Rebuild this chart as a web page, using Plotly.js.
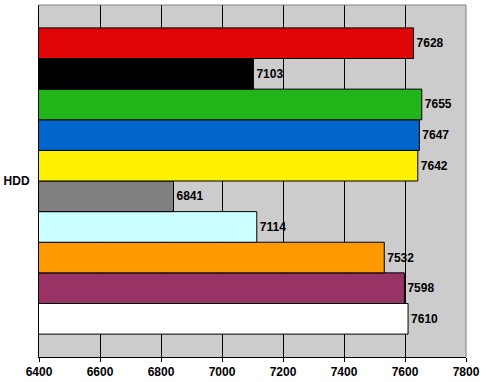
<!DOCTYPE html>
<html><head><meta charset="utf-8">
<script src="https://cdn.plot.ly/plotly-3.0.1.min.js"></script>
<style>html,body{margin:0;padding:0;background:#fff}</style>
</head><body>
<div id="chart" style="width:486px;height:382px"></div>
<script>
// bottom to top order
const category = ["HDD"];
const seriesValues = [7610, 7598, 7532, 7114, 6841, 7642, 7647, 7655, 7103, 7628];
const seriesColors = ["#ffffff", "#993366", "#ff9900", "#ccffff", "#808080", "#fff200", "#0066cc", "#22b51a", "#000000", "#e00606"];
const tickVals = [6400, 6600, 6800, 7000, 7200, 7400, 7600, 7800];

const font = {family: "Arial, Liberation Sans, sans-serif", size: 12, color: "#000", weight: "bold"};
const traces = seriesValues.map((v, i) => ({
  type: "bar", orientation: "h",
  y: category, x: [v],
  marker: {color: seriesColors[i], line: {color: "#000", width: 1}},
  text: [String(v)], textposition: "outside", textfont: font,
  constraintext: "none", textangle: 0,
  cliponaxis: true, hoverinfo: "none", showlegend: false
}));

const layout = {
  width: 486, height: 382,
  margin: {l: 39, r: 20, t: 5, b: 25, pad: 0},
  paper_bgcolor: "#ffffff", plot_bgcolor: "#cccccc",
  barmode: "group", bargap: 0.13, bargroupgap: 0,
  font: font,
  xaxis: {
    range: [6400, 7800], tickvals: tickVals, ticktext: tickVals.map(String),
    showgrid: true, gridcolor: "#000", gridwidth: 1,
    showline: true, linecolor: "#000", linewidth: 1,
    ticks: "outside", ticklen: 4, tickcolor: "#000",
    zeroline: false, tickfont: font, fixedrange: true
  },
  yaxis: {
    showgrid: false, showline: true, linecolor: "#000", linewidth: 1,
    ticks: "", tickfont: font, zeroline: false, fixedrange: true, ticklabelstandoff: 6
  },
  shapes: [
    {type: "line", xref: "paper", yref: "paper", x0: 0, x1: 1, y0: 1, y1: 1, line: {color: "#808080", width: 1}},
    {type: "line", xref: "paper", yref: "paper", x0: 1, x1: 1, y0: 0, y1: 1, line: {color: "#808080", width: 1}}
  ]
};
Plotly.newPlot("chart", traces, layout, {displayModeBar: false, staticPlot: true});
</script>
</body></html>
